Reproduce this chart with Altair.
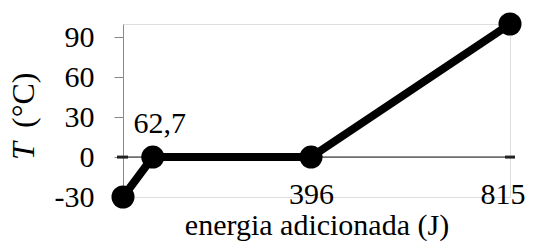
import altair as alt
import pandas as pd

energy = [0, 62.7, 396, 815]
temp = [-30, 0, 0, 100]
point_labels = ["", "62,7", "", ""]
y_ticks = [-30, 0, 30, 60, 90]
x_ticks = [396, 815]
y_title_italic = ["T"]
y_title_rest = ["(°C)"]

FONT = "Liberation Serif"
FS = 30

df = pd.DataFrame({"energy": energy, "temp": temp, "label": point_labels})

x_enc = alt.X(
    "energy:Q",
    scale=alt.Scale(domain=[0, 815], nice=False, zero=False),
    axis=alt.Axis(
        values=x_ticks, title="energia adicionada (J)", domain=False, ticks=False,
        grid=False, labelPadding=-18, labelFont=FONT, labelFontSize=FS,
        labelColor="black", labelFlush=True, labelFlushOffset=15,
        labelOverlap=False, labelBound=False,
        titleFont=FONT, titleFontSize=FS, titleFontWeight="normal", titleColor="black",
        titleY=37, titleBaseline="alphabetic", zindex=0,
    ),
)
y_enc = alt.Y(
    "temp:Q",
    scale=alt.Scale(domain=[-30, 100], nice=False, zero=False),
    axis=alt.Axis(
        values=y_ticks, title=None, grid=False, domainColor="#888888",
        domainWidth=1, tickColor="#888888", tickSize=9, tickWidth=1,
        labelPadding=20, labelFont=FONT, labelFontSize=FS, labelColor="black",
        labelExpr="'' + datum.value",
        labelFlush=False, labelOverlap=False, labelBound=False, zindex=0,
    ),
)

base = alt.Chart(df)

zero_rule = alt.Chart(pd.DataFrame({"z": [0]})).mark_rule(
    color="black", strokeWidth=1
).encode(y=alt.Y("z:Q"), x=alt.value(-5), x2=alt.value(392))

end_marks = alt.Chart(pd.DataFrame({"z": [0, 0], "a": [-6, 382], "b": [5, 392]})).mark_rule(
    color="#222222", strokeWidth=3
).encode(y=alt.Y("z:Q"), x=alt.X("a:Q", scale=None), x2="b:Q")

line = base.mark_line(
    color="black", strokeWidth=8,
    point=alt.OverlayMarkDef(size=531, color="black", filled=True, opacity=1),
).encode(x=x_enc, y=y_enc)

labels = base.mark_text(
    font=FONT, fontSize=FS, color="black", baseline="alphabetic", dy=-24, dx=7
).encode(x=alt.X("energy:Q"), y=alt.Y("temp:Q"), text="label:N")

t_italic = alt.Chart(pd.DataFrame({"t": y_title_italic})).mark_text(
    angle=270, align="left", baseline="middle", font=FONT, fontSize=32,
    fontStyle="italic", color="black",
).encode(x=alt.value(-99), y=alt.value(136), text="t:N")

t_rest = alt.Chart(pd.DataFrame({"t": y_title_rest})).mark_text(
    angle=270, align="left", baseline="middle", font=FONT, fontSize=32,
    color="black",
).encode(x=alt.value(-99), y=alt.value(104), text="t:N")

chart = alt.layer(zero_rule, end_marks, line, labels, t_italic, t_rest).properties(
    width=387, height=173,
    autosize=alt.AutoSizeParams(type="none"),
    padding={"left": 115, "top": 16, "right": 16, "bottom": 44},
).configure_view(stroke=None).configure(background="white")

chart.save("out.html", embed_options={"renderer": "svg", "actions": False})
